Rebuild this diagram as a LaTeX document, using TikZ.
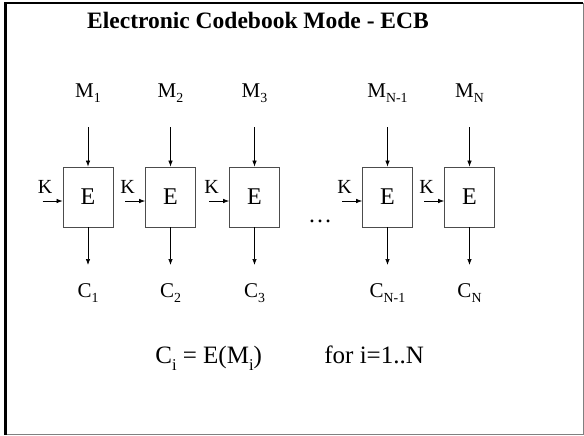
\documentclass[tikz,border=0pt]{standalone}
\usepackage{fontspec}
\setmainfont{Liberation Serif}
\usetikzlibrary{positioning, arrows.meta}

\newcommand{\lowidx}[1]{\raisebox{-0.28em}{\scalebox{0.66}{#1}}}

\tikzset{
  encbox/.style={draw=black!70, line width=0.8pt, minimum width=50pt,
    minimum height=60pt, inner sep=0pt, font=\fontsize{24}{26}\selectfont},
  blocklabel/.style={font=\fontsize{21}{24}\selectfont, inner sep=0pt},
  keylabel/.style={font=\fontsize{20}{22}\selectfont, inner sep=0pt},
  plaintext/.style={font=\fontsize{25}{28}\selectfont, inner sep=0pt},
}

\begin{document}
\begin{tikzpicture}[>={Latex[length=6pt, width=4.5pt]}, x=1pt, y=-1pt, line width=0.7pt]
    % Rahmen
    \useasboundingbox (0,0) rectangle (584,436);
    \draw[gray, line width=1pt] (5.5,434.5) -- (583,434.5) -- (583,3);
    \draw[line width=2.5pt] (5.5,434.5) -- (5.5,3) -- (583,3);

    \node[font=\fontsize{23.5}{28}\selectfont\bfseries, inner sep=0pt, anchor=base] (title) at (258,29) {Electronic Codebook Mode - ECB};

    % Blöcke
    \foreach \i/\x/\s in {1/88/1, 2/170.5/2, 3/254.5/3, 4/387.5/N-1, 5/469.5/N} {
        \node[encbox] (e\i) at (\x,197) {E};
        \node[blocklabel, anchor=base] (m\i) at (\x,97) {M\lowidx{\s}};
        \node[blocklabel, anchor=base] (c\i) at (\x,297) {C\lowidx{\s}};
        \coordinate (mt\i) at (\x,127);
        \coordinate (cb\i) at (\x,265);
        \coordinate[left=20pt of e\i.west, yshift=-4pt] (k\i);
        \node[keylabel, anchor=base west] (kl\i) at ([xshift=-5pt, yshift=8pt]k\i) {K};
        \draw[->] (mt\i) -- (e\i);
        \draw[->] (e\i) -- (cb\i);
        \draw[->] (k\i) -- (k\i -| e\i.west);
    }

    \node[font=\fontsize{24}{26}\selectfont, inner sep=0pt, anchor=base] (dots) at (320,222) {\dots};

    % Formel
    \node[plaintext, anchor=base west] (eq) at (155,363) {C\lowidx{i} = E(M\lowidx{i})};
    \node[plaintext, anchor=base west] (rng) at (324,363) {for i=1..N};
\end{tikzpicture}
\end{document}
